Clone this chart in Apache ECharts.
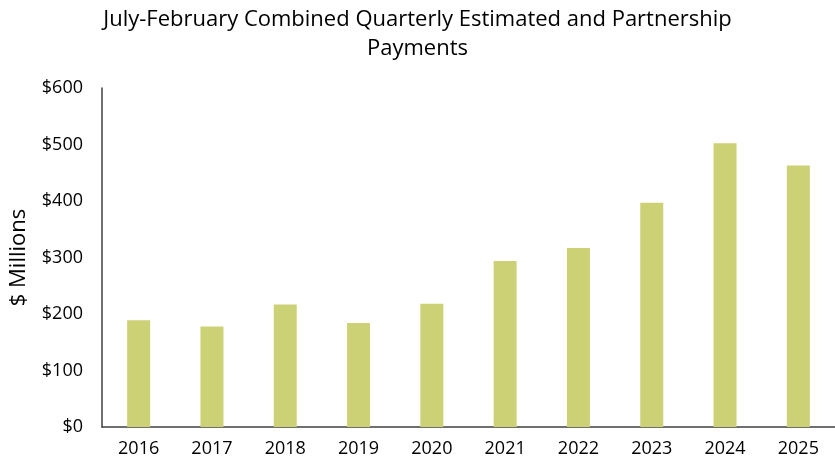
<!DOCTYPE html>
<html lang="en">
<head>
    <meta charset="UTF-8">
    <title>July-February Combined Quarterly Estimated and Partnership Payments</title>
    <script src="https://cdn.jsdelivr.net/npm/echarts@6/dist/echarts.min.js"></script>
    <style>
        html, body { margin: 0; padding: 0; background: #fff; }
    </style>
</head>
<body>
    <div id="main" style="width: 835px;height: 467px"></div>
    <script type="text/javascript">
        // 数据 ($ millions)
        var years = ['2016', '2017', '2018', '2019', '2020', '2021', '2022', '2023', '2024', '2025'];
        var payments = [189, 178, 217, 184, 218, 294, 317, 397, 502, 463];
        var yTicks = [0, 100, 200, 300, 400, 500, 600];

        var font = '"Open Sans", "Liberation Sans", sans-serif';
        var myChart = echarts.init(document.getElementById('main'));

        var option = {
            backgroundColor: '#fff',
            animation: false,
            title: {
                text: 'July-February Combined Quarterly Estimated and Partnership\nPayments',
                left: 'center',
                top: 0,
                textStyle: {
                    fontFamily: font,
                    fontWeight: 'normal',
                    fontSize: 22,
                    color: '#000',
                    lineHeight: 29
                }
            },
            grid: {
                left: 98,
                right: 0,
                top: 88,
                bottom: 40
            },
            xAxis: {
                type: 'category',
                data: years,
                axisLine: { lineStyle: { color: '#404040', width: 1.5 } },
                axisTick: { show: false },
                axisLabel: {
                    fontFamily: font,
                    fontSize: 18,
                    color: '#000',
                    margin: 13
                }
            },
            yAxis: {
                type: 'value',
                min: yTicks[0],
                max: yTicks[yTicks.length - 1],
                interval: 100,
                name: '$ Millions',
                nameLocation: 'middle',
                nameGap: 72,
                nameTextStyle: {
                    fontFamily: font,
                    fontSize: 22,
                    color: '#000'
                },
                axisLine: { show: true, lineStyle: { color: '#404040', width: 1.5 } },
                axisTick: { show: false },
                splitLine: { show: false },
                axisLabel: {
                    fontFamily: font,
                    fontSize: 18,
                    color: '#000',
                    margin: 19,
                    formatter: function (v) { return '$' + v; }
                }
            },
            series: [{
                type: 'bar',
                data: payments,
                barWidth: 23,
                itemStyle: { color: '#CDD175' }
            }]
        };

        myChart.setOption(option);
    </script>
</body>
</html>
